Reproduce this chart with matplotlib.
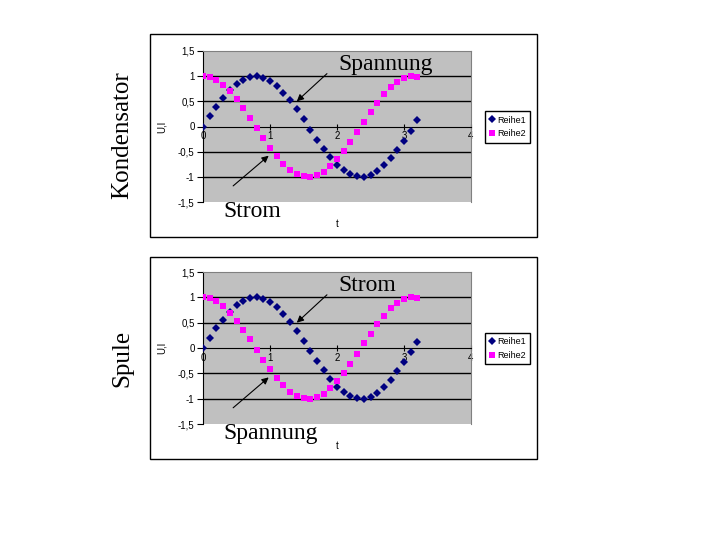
import matplotlib
matplotlib.use("Agg")
import matplotlib.pyplot as plt
from matplotlib.patches import Rectangle
from matplotlib.lines import Line2D

t = [0.0, 0.1, 0.2, 0.3, 0.4, 0.5, 0.6, 0.7, 0.8, 0.9, 1.0, 1.1, 1.2, 1.3, 1.4, 1.5,
     1.6, 1.7, 1.8, 1.9, 2.0, 2.1, 2.2, 2.3, 2.4, 2.5, 2.6, 2.7, 2.8, 2.9, 3.0, 3.1, 3.2]
reihe1 = [0.0, 0.2, 0.39, 0.56, 0.72, 0.84, 0.93, 0.98, 1.0, 0.97, 0.91, 0.81, 0.67, 0.52,
          0.34, 0.14, -0.06, -0.26, -0.44, -0.61, -0.76, -0.87, -0.95, -0.99, -1.0, -0.96,
          -0.88, -0.77, -0.63, -0.46, -0.28, -0.08, 0.12]
reihe2 = [1.0, 0.98, 0.92, 0.82, 0.7, 0.54, 0.36, 0.17, -0.03, -0.23, -0.42, -0.59, -0.74,
          -0.86, -0.94, -0.99, -1.0, -0.97, -0.9, -0.79, -0.65, -0.49, -0.31, -0.11, 0.09,
          0.28, 0.47, 0.64, 0.78, 0.89, 0.96, 1.0, 0.99]
series_names = ["Reihe1", "Reihe2"]
yticks = [-1.5, -1.0, -0.5, 0.0, 0.5, 1.0, 1.5]
ytick_labels = ["-1,5", "-1", "-0,5", "0", "0,5", "1", "1,5"]
xticks = [0, 1, 2, 3, 4]
xtick_labels = ["0", "1", "2", "3", "4"]
panel_titles = ["Kondensator", "Spule"]
upper_labels = ["Spannung", "Strom"]
lower_labels = ["Strom", "Spannung"]

W, H = 720, 540
fig = plt.figure(figsize=(7.2, 5.4), dpi=100)
fig.patch.set_facecolor("white")

sans = ["Liberation Sans", "DejaVu Sans"]
serif = ["Liberation Serif", "DejaVu Serif"]

D_SIZE = 3.7
S_SIZE = 3.9


def fx(px):
    return px / W


def fy(py):
    return 1 - py / H


panels = [
    dict(box=(150, 34, 537, 237), plot=(203, 51, 471, 202)),
    dict(box=(150, 257, 537, 459), plot=(203, 272, 471, 424)),
]

for i, p in enumerate(panels):
    bx0, by0, bx1, by1 = p["box"]
    fig.patches.append(Rectangle((fx(bx0), fy(by1)), fx(bx1) - fx(bx0), fy(by0) - fy(by1),
                                 transform=fig.transFigure, fill=False,
                                 edgecolor="black", linewidth=1.0))
    px0, py0, px1, py1 = p["plot"]
    ax = fig.add_axes([fx(px0), fy(py1), fx(px1) - fx(px0), fy(py0) - fy(py1)])
    ax.set_facecolor("#C0C0C0")
    ax.set_xlim(0, 4)
    ax.set_ylim(-1.5, 1.5)
    for yv in [-1.0, -0.5, 0.5, 1.0]:
        ax.axhline(yv, color="black", linewidth=1.0, zorder=1)
    ax.plot(t, reihe1, linestyle="none", marker="D", markersize=D_SIZE, mew=0,
            color="#000080", zorder=3)
    ax.plot(t, reihe2, linestyle="none", marker="s", markersize=S_SIZE, mew=0,
            color="#FF00FF", zorder=3)
    ax.spines["top"].set_color("#808080")
    ax.spines["right"].set_color("#808080")
    ax.spines["left"].set_color("black")
    ax.spines["bottom"].set_position(("data", 0))
    ax.spines["bottom"].set_color("black")
    ax.set_yticks(yticks)
    ax.set_yticklabels(ytick_labels, fontfamily=sans, fontsize=7)
    ax.set_xticks(xticks)
    ax.set_xticklabels(xtick_labels, fontfamily=sans, fontsize=7)
    ax.tick_params(axis="y", direction="out", length=4, width=0.8, pad=2)
    ax.tick_params(axis="x", direction="inout", length=5, width=0.8, pad=1)
    ax.set_ylabel("U,I", fontfamily=sans, fontsize=7, labelpad=8)
    ax.set_xlabel("t", fontfamily=sans, fontsize=7)
    ax.xaxis.set_label_coords(0.5, -0.11)

    handles = [Line2D([], [], linestyle="none", marker="D", markersize=D_SIZE, mew=0,
                      color="#000080"),
               Line2D([], [], linestyle="none", marker="s", markersize=S_SIZE, mew=0,
                      color="#FF00FF")]
    leg = ax.legend(handles, series_names, loc="center left",
                    bbox_to_anchor=(fx(485), fy((py0 + py1) / 2 + 0.5)),
                    bbox_transform=fig.transFigure,
                    prop={"family": sans, "size": 6.5}, frameon=True, fancybox=False,
                    framealpha=1, edgecolor="black", handlelength=0.6, handletextpad=0.3,
                    borderpad=0.45, labelspacing=0.55, borderaxespad=0)
    leg.get_frame().set_linewidth(1.0)

    # annotations
    ax.annotate("", xy=(1.4, 0.5), xytext=(1.85, 1.05),
                arrowprops=dict(arrowstyle="-|>", color="black", lw=0.8,
                                mutation_scale=10, shrinkA=0, shrinkB=0))
    ax.text(2.02, 1.02, upper_labels[i], fontfamily=serif, fontsize=17,
            ha="left", va="bottom")
    ax.annotate("", xy=(0.98, -0.58), xytext=(0.45, -1.18),
                arrowprops=dict(arrowstyle="-|>", color="black", lw=0.8,
                                mutation_scale=10, shrinkA=0, shrinkB=0))
    ax.text(0.3, -1.68, lower_labels[i], fontfamily=serif, fontsize=17,
            ha="left", va="center", clip_on=False)

    fig.text(fx(122), fy((by0 + by1) / 2), panel_titles[i], rotation=90,
             fontfamily=serif, fontsize=18, ha="center", va="center")

fig.savefig("out.png", dpi=100)
